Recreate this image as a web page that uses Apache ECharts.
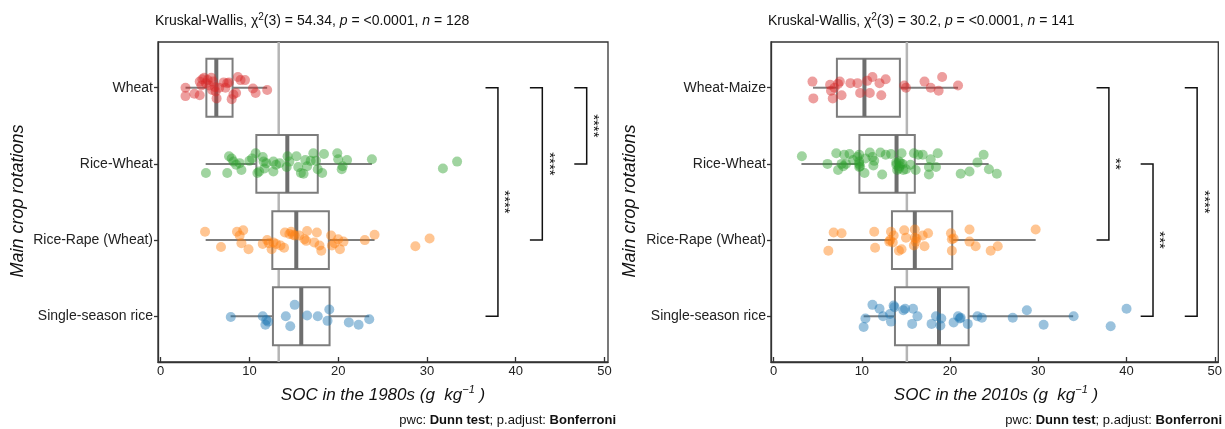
<!DOCTYPE html>
<html>
<head>
<meta charset="utf-8">
<script src="https://cdn.jsdelivr.net/npm/echarts@6/dist/echarts.min.js"></script>
<style>
  html, body { margin: 0; padding: 0; background: #fff; }
  #chart { width: 1225px; height: 429px; }
</style>
</head>
<body>
<div id="chart"></div>
<script>
const catsA = ["Wheat", "Rice-Wheat", "Rice-Rape (Wheat)", "Single-season rice"];
const catsB = ["Wheat-Maize", "Rice-Wheat", "Rice-Rape (Wheat)", "Single-season rice"];
const colors = ["#d62728", "#2ca02c", "#ff7f0e", "#1f77b4"];
const xTicks = [0, 10, 20, 30, 40, 50];

// box stats per category: [whisker low, q1, median, q3, whisker high]
const boxA = [[2.8, 5.15, 6.27, 8.1, 12.0], [5.07, 10.78, 14.27, 17.7, 23.8], [5.07, 12.58, 15.28, 18.95, 24.1], [7.88, 12.65, 15.84, 19.03, 23.5]];
const boxB = [[4.46, 7.17, 10.29, 14.31, 20.9], [3.15, 9.72, 13.93, 16.0, 24.37], [6.15, 13.41, 16.0, 20.24, 29.7], [10.2, 13.75, 18.74, 22.1, 33.95]];

// overall median reference lines
const refA = 13.3;
const refB = 15.1;

// points: [SOC, vertical jitter in category units]
const wheatA = [[2.8,0.00],[2.8,0.11],[3.8,0.08],[4.4,0.10],[4.6,-0.03],[4.4,-0.08],[4.7,-0.11],[4.9,-0.13],[5.3,-0.10],[5.7,-0.13],[5.9,-0.08],[5.5,-0.03],[5.8,0.03],[6.2,0.05],[6.3,0.14],[6.6,0.00],[7.1,-0.07],[7.5,-0.06],[7.7,-0.07],[7.3,0.00],[8.0,0.15],[8.2,0.09],[8.5,0.07],[8.7,-0.14],[9.0,-0.10],[9.5,-0.10],[10.4,0.01],[10.7,0.07],[12.0,0.03],[6.1,-0.01],[5.1,-0.06]];
const riceWheatA = [[5.1,0.12],[7.5,0.12],[7.7,-0.10],[8.0,-0.07],[8.2,-0.03],[8.5,0.01],[8.9,-0.01],[9.1,0.08],[10.0,-0.04],[10.3,-0.07],[10.7,-0.14],[10.9,0.12],[11.1,0.10],[11.5,-0.09],[11.6,-0.03],[11.7,0.06],[12.7,0.10],[12.7,-0.03],[13.0,0.01],[13.4,-0.01],[14.2,0.04],[14.3,-0.10],[14.5,-0.03],[15.3,-0.10],[15.5,0.04],[15.8,0.12],[16.1,0.13],[16.3,-0.05],[16.5,0.03],[16.9,-0.04],[17.2,-0.14],[17.5,-0.04],[17.7,0.07],[18.2,0.12],[18.4,-0.13],[19.9,-0.14],[20.0,-0.06],[20.4,0.07],[20.5,0.03],[21.0,-0.05],[23.8,-0.06],[31.8,0.06],[33.4,-0.03],[11.9,-0.01]];
const riceRapeA = [[5.0,-0.11],[6.8,0.09],[8.6,-0.11],[8.9,-0.06],[9.3,-0.13],[9.1,0.04],[9.9,0.12],[11.5,0.05],[12.0,0.00],[12.5,0.12],[12.7,0.03],[13.0,0.05],[13.5,0.07],[13.9,0.10],[14.0,-0.10],[14.5,-0.08],[14.7,-0.11],[15.1,-0.06],[15.6,-0.06],[16.2,-0.01],[16.4,0.01],[16.5,-0.12],[17.3,0.03],[17.6,-0.10],[17.9,0.07],[18.1,0.14],[19.2,-0.06],[19.3,0.07],[19.6,0.04],[20.0,-0.01],[20.2,0.12],[20.6,0.02],[23.0,0.00],[24.1,-0.07],[28.7,0.08],[30.3,-0.02],[14.9,-0.07],[12.2,0.04]];
const singleA = [[7.9,0.01],[11.5,0.00],[11.8,0.11],[12.1,0.07],[14.1,0.00],[14.6,0.13],[15.1,-0.15],[16.5,-0.01],[17.7,0.00],[18.8,0.06],[19.0,-0.09],[21.2,0.08],[22.3,0.11],[23.5,0.04],[11.9,0.05]];

const wheatMaizeB = [[4.4,-0.08],[4.5,0.14],[6.4,-0.04],[6.5,0.04],[6.7,0.14],[6.9,0.00],[7.3,-0.05],[7.5,-0.08],[7.7,0.10],[8.7,-0.06],[9.5,-0.06],[9.8,0.07],[10.6,-0.09],[10.9,0.07],[11.2,-0.14],[12.0,-0.06],[12.2,0.10],[12.7,-0.11],[14.8,-0.03],[15.0,0.00],[17.1,-0.08],[17.8,0.00],[18.7,0.04],[19.1,-0.14],[20.9,-0.03]];
const riceWheatB = [[3.2,-0.10],[6.1,0.00],[7.1,-0.14],[7.3,0.08],[7.7,0.00],[8.0,-0.12],[8.2,0.00],[8.6,-0.13],[9.0,-0.05],[9.5,-0.09],[9.7,0.00],[9.7,-0.12],[9.8,0.03],[10.3,0.12],[10.4,-0.07],[10.9,-0.15],[11.2,-0.09],[11.3,0.02],[12.3,0.14],[12.1,-0.15],[12.7,-0.12],[13.3,-0.13],[13.9,0.01],[14.0,0.08],[14.2,-0.03],[14.3,0.03],[14.5,-0.14],[14.6,0.00],[14.7,0.08],[15.0,0.07],[15.5,0.01],[15.9,-0.14],[16.4,-0.12],[16.9,-0.12],[17.6,0.14],[17.6,0.04],[17.8,-0.06],[18.4,0.04],[18.6,-0.14],[21.2,0.13],[22.2,0.10],[23.1,-0.02],[23.8,-0.12],[24.4,0.07],[25.3,0.13],[14.4,-0.01],[9.7,0.04],[7.9,0.03],[11.4,-0.04],[14.2,0.06],[16.1,0.08],[9.7,-0.03],[13.9,-0.02]];
const riceRapeB = [[6.2,0.14],[6.8,-0.10],[7.7,-0.09],[11.4,-0.11],[11.5,0.10],[13.1,0.02],[13.3,-0.11],[13.6,-0.06],[14.2,0.14],[14.5,0.12],[14.8,-0.13],[15.9,0.07],[16.0,-0.14],[16.0,-0.03],[16.2,-0.02],[16.9,-0.06],[17.1,0.08],[17.5,-0.09],[20.1,-0.09],[20.2,0.14],[20.4,-0.02],[22.2,-0.14],[22.2,0.02],[22.9,0.08],[24.6,0.14],[25.4,0.08],[29.7,-0.14],[13.2,0.00],[13.5,0.03],[16.1,0.02],[15.0,-0.03],[20.2,-0.01]];
const singleB = [[10.2,0.14],[10.4,0.03],[11.2,-0.15],[12.0,-0.10],[12.4,0.00],[13.2,-0.03],[13.3,0.07],[13.6,-0.14],[13.7,-0.12],[14.7,-0.08],[14.9,-0.10],[15.7,0.10],[15.8,-0.10],[16.3,0.00],[17.9,0.10],[18.4,0.00],[18.9,0.12],[19.0,0.03],[20.4,0.08],[20.9,0.00],[21.1,0.03],[21.2,0.02],[22.0,0.10],[23.1,0.00],[23.6,0.02],[27.1,0.02],[28.7,-0.08],[30.6,0.11],[34.0,0.00],[38.2,0.13],[40.0,-0.10]];

// significance brackets: [x position, from category, to category, label]
const bracketsA = [[38, 1, 4, "****"], [43, 1, 3, "****"], [48, 1, 2, "****"]];
const bracketsB = [[38, 1, 3, "**"], [43, 2, 4, "***"], [48, 1, 4, "****"]];

const FONT = "Liberation Sans, Arial, sans-serif";
const chart = echarts.init(document.getElementById("chart"));

function makeAxes(idx, cats) {
  const x = {
    type: "value", gridIndex: idx, min: -0.3, max: 50.4,
    axisLine: { show: true, onZero: false, lineStyle: { color: "#333", width: 1.3 } },
    axisTick: { show: true, inside: true, length: 5, customValues: xTicks, lineStyle: { color: "#333", width: 1.3 } },
    axisLabel: { customValues: xTicks, margin: 3, color: "#222", fontSize: 13, fontFamily: FONT },
    splitLine: { show: false }
  };
  const y = {
    type: "value", gridIndex: idx, min: 0.4, max: 4.6, inverse: true,
    axisLine: { show: true, onZero: false, lineStyle: { color: "#333", width: 1.3 } },
    axisTick: { show: true, inside: false, length: 4, customValues: [1, 2, 3, 4], lineStyle: { color: "#333", width: 1.3 } },
    axisLabel: { customValues: [1, 2, 3, 4], margin: 5, color: "#222", fontSize: 14, fontFamily: FONT,
      formatter: v => cats[Math.round(v) - 1] || "" },
    splitLine: { show: false }
  };
  return [x, y];
}

function refSeries(idx, v) {
  return {
    type: "custom", xAxisIndex: idx, yAxisIndex: idx, z: 1, silent: true,
    data: [[v, 0.4, 4.6]],
    encode: { x: 0, y: [1, 2] },
    renderItem: (params, api) => {
      const a = api.coord([api.value(0), api.value(1)]);
      const b = api.coord([api.value(0), api.value(2)]);
      return { type: "line", shape: { x1: a[0], y1: a[1], x2: b[0], y2: b[1] },
        style: { stroke: "#b5b5b5", lineWidth: 2.5 } };
    }
  };
}

function boxSeries(idx, stats) {
  const half = 0.38;
  return {
    type: "custom", xAxisIndex: idx, yAxisIndex: idx, z: 2, silent: true,
    data: stats.map((s, i) => [i + 1].concat(s)),
    encode: { x: [1, 2, 3, 4, 5], y: 0 },
    renderItem: (params, api) => {
      const c = api.value(0);
      const lo = api.value(1), q1 = api.value(2), med = api.value(3), q3 = api.value(4), hi = api.value(5);
      const p = (x, y) => api.coord([x, y]);
      const a = p(q1, c - half), b = p(q3, c + half);
      const wl1 = p(lo, c), wl2 = p(q1, c), wr1 = p(q3, c), wr2 = p(hi, c);
      const m1 = p(med, c - half), m2 = p(med, c + half);
      const st = { stroke: "#7d7d7d", lineWidth: 2 };
      return { type: "group", children: [
        { type: "line", shape: { x1: wl1[0], y1: wl1[1], x2: wl2[0], y2: wl2[1] }, style: st },
        { type: "line", shape: { x1: wr1[0], y1: wr1[1], x2: wr2[0], y2: wr2[1] }, style: st },
        { type: "rect", shape: { x: Math.min(a[0], b[0]), y: Math.min(a[1], b[1]), width: Math.abs(b[0] - a[0]), height: Math.abs(b[1] - a[1]) },
          style: { fill: "#fff", stroke: "#7d7d7d", lineWidth: 2 } },
        { type: "line", shape: { x1: m1[0], y1: m1[1], x2: m2[0], y2: m2[1] }, style: { stroke: "#6e6e6e", lineWidth: 4 } }
      ] };
    }
  };
}

function pointSeries(idx, groups) {
  return groups.map((pts, k) => ({
    type: "scatter", xAxisIndex: idx, yAxisIndex: idx, z: 3, silent: true,
    symbolSize: 10,
    itemStyle: { color: colors[k], opacity: 0.45 },
    data: pts.map(d => [d[0], k + 1 + d[1]])
  }));
}

function bracketSeries(idx, brackets) {
  return {
    type: "custom", xAxisIndex: idx, yAxisIndex: idx, z: 4, silent: true,
    data: brackets.map(b => [b[0], b[1], b[2]]),
    encode: { x: 0, y: [1, 2] },
    renderItem: (params, api) => {
      const x = api.value(0), y1 = api.value(1), y2 = api.value(2);
      const p = (a, b) => api.coord([a, b]);
      const pts = [p(x - 1.4, y1), p(x, y1), p(x, y2), p(x - 1.4, y2)];
      const t = p(x + 0.75, (y1 + y2) / 2);
      return { type: "group", children: [
        { type: "polyline", shape: { points: pts }, style: { stroke: "#111", lineWidth: 1.5, fill: null } },
        { type: "text", x: t[0], y: t[1], rotation: -Math.PI / 2,
          style: { text: brackets[params.dataIndex][3], fontSize: 15, fontFamily: FONT, fill: "#111",
            align: "center", verticalAlign: "middle", textAlign: "center", textVerticalAlign: "middle" } }
      ] };
    }
  };
}

const [xA, yA] = makeAxes(0, catsA);
const [xB, yB] = makeAxes(1, catsB);

function titleText(x, chi, n) {
  return {
    type: "text", x: x, y: 21,
    style: {
      text: "Kruskal-Wallis, χ{sup|2}(3) = " + chi + ", {i|p} = <0.0001, {i|n} = " + n,
      fontSize: 14, fontFamily: FONT, fill: "#111", lineHeight: 18,
      align: "left", verticalAlign: "middle", textAlign: "left", textVerticalAlign: "middle",
      rich: {
        sup: { fontSize: 10, fontFamily: FONT, fill: "#111", verticalAlign: "top", lineHeight: 18 },
        i: { fontSize: 14, fontFamily: FONT, fill: "#111", fontStyle: "italic", lineHeight: 18 }
      }
    }
  };
}

function xTitle(x, decade) {
  return {
    type: "text", x: x, y: 395,
    style: {
      text: "SOC in the " + decade + " (g  kg{sup|−1} )",
      fontSize: 17, fontFamily: FONT, fontStyle: "italic", fill: "#111", lineHeight: 22,
      align: "center", verticalAlign: "middle", textAlign: "center", textVerticalAlign: "middle",
      rich: { sup: { fontSize: 11, fontFamily: FONT, fontStyle: "italic", fill: "#111", verticalAlign: "top", lineHeight: 22 } }
    }
  };
}

function yTitle(x) {
  return {
    type: "text", x: x, y: 201, rotation: Math.PI / 2,
    style: {
      text: "Main crop rotations", fontSize: 18, fontFamily: FONT, fontStyle: "italic", fill: "#111",
      align: "center", verticalAlign: "middle", textAlign: "center", textVerticalAlign: "middle"
    }
  };
}

function caption(x) {
  return {
    type: "text", x: x, y: 420,
    style: {
      text: "pwc: {b|Dunn test}; p.adjust: {b|Bonferroni}",
      fontSize: 13, fontFamily: FONT, fill: "#111",
      align: "right", verticalAlign: "middle", textAlign: "right", textVerticalAlign: "middle",
      rich: { b: { fontSize: 13, fontFamily: FONT, fill: "#111", fontWeight: "bold" } }
    }
  };
}

const option = {
  animation: false,
  backgroundColor: "#fff",
  grid: [
    { left: 158, top: 42, width: 450, height: 320, show: true, borderColor: "#333", borderWidth: 1.3, backgroundColor: "transparent" },
    { left: 771, top: 42, width: 449, height: 320, show: true, borderColor: "#333", borderWidth: 1.3, backgroundColor: "transparent" }
  ],
  xAxis: [xA, xB],
  yAxis: [yA, yB],
  graphic: [
    titleText(155, "54.34", 128), titleText(768, "30.2", 141),
    xTitle(383, "1980s"), xTitle(996, "2010s"),
    yTitle(18), yTitle(630),
    caption(616), caption(1222)
  ],
  series: [].concat(
    refSeries(0, refA), boxSeries(0, boxA),
    pointSeries(0, [wheatA, riceWheatA, riceRapeA, singleA]),
    bracketSeries(0, bracketsA),
    refSeries(1, refB), boxSeries(1, boxB),
    pointSeries(1, [wheatMaizeB, riceWheatB, riceRapeB, singleB]),
    bracketSeries(1, bracketsB)
  )
};
chart.setOption(option);
</script>
</body>
</html>
